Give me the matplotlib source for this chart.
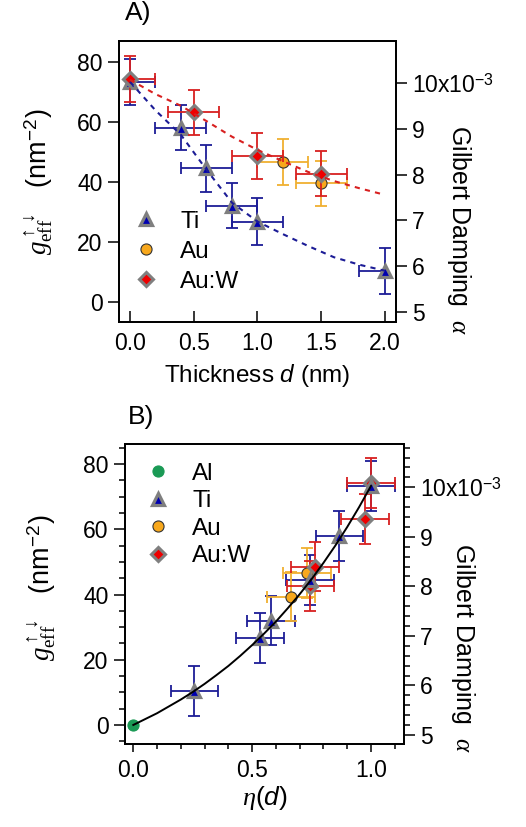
import matplotlib
matplotlib.use('Agg')
import matplotlib.pyplot as plt
from matplotlib.lines import Line2D
from matplotlib.ticker import MultipleLocator

plt.rcParams['font.family'] = ['Liberation Sans', 'DejaVu Sans']
plt.rcParams['mathtext.fontset'] = 'custom'
plt.rcParams['mathtext.rm'] = 'Liberation Serif'
plt.rcParams['mathtext.it'] = 'Liberation Serif:italic'
plt.rcParams['mathtext.sf'] = 'Liberation Sans:italic'
plt.rcParams['mathtext.tt'] = 'Liberation Sans'

# ---- data ----
# panel A : g_eff vs thickness d (nm)
ti_d = [0.0, 0.4, 0.6, 0.8, 1.0, 2.0]
ti_g = [73.3, 58.0, 44.4, 32.0, 26.7, 10.3]
ti_gerr = [7.7, 7.6, 7.7, 7.6, 7.7, 7.7]
ti_derr_lo = [0.0, 0.2, 0.2, 0.2, 0.2, 0.2]
ti_derr_hi = [0.2, 0.2, 0.2, 0.2, 0.2, 0.0]

au_d = [1.2, 1.5]
au_g = [46.6, 39.4]
au_gerr = [7.6, 7.6]
au_derr = [0.2, 0.2]

auw_d = [0.0, 0.5, 1.0, 1.5]
auw_g = [74.2, 63.1, 48.6, 42.7]
auw_gerr = [7.7, 7.6, 7.6, 7.6]
auw_derr_lo = [0.0, 0.2, 0.2, 0.2]
auw_derr_hi = [0.2, 0.2, 0.2, 0.2]

# dashed fit curves in panel A
fit_d = [0.0, 0.2, 0.4, 0.6, 0.8, 1.0, 1.2, 1.4, 1.6, 1.8, 2.0]
fit_ti = [73.3, 63.8, 55.6, 44.0, 33.0, 26.7, 22.5, 18.5, 14.8, 12.3, 10.3]
fit_auw = [74.0, 69.2, 65.3, 60.2, 55.0, 50.6, 46.8, 43.2, 40.2, 37.8, 35.6]

# panel B : g_eff vs eta(d)
al_eta = [0.0]
al_g = [0.0]
ti_eta = [1.0, 0.867, 0.743, 0.579, 0.533, 0.257]
au_eta = [0.732, 0.663]
auw_eta = [1.0, 0.975, 0.764, 0.745]
eta_err = 0.1

# solid curve in panel B
fit_eta = [0.0, 0.05, 0.1, 0.15, 0.2, 0.25, 0.3, 0.35, 0.4, 0.45, 0.5,
           0.55, 0.6, 0.65, 0.7, 0.75, 0.8, 0.85, 0.9, 0.95, 1.0]
fit_g = [0.0, 1.8, 3.6, 5.7, 7.8, 10.1, 12.6, 15.3, 18.1, 21.2, 24.5,
         28.0, 31.7, 35.8, 40.1, 44.7, 49.7, 55.0, 60.7, 66.8, 73.3]

damp_ticks = [5, 6, 7, 8, 9, 10]
damp_labels = ['5', '6', '7', '8', '9', r'10x10$^{\mathtt{-3}}$']

blue = '#1c1c96'
red = '#d82020'
gold = '#f0b030'
orange = '#f8a81c'
green = '#1a9a55'
gray = '#7f7f7f'

ti_mk = dict(marker='^', ms=8.5, mfc='#0000b0', mec=gray, mew=2.3, ls='none')
au_mk = dict(marker='o', ms=8, mfc=orange, mec='#333333', mew=0.8, ls='none')
auw_mk = dict(marker='D', ms=7.5, mfc='#ee0000', mec=gray, mew=2.2, ls='none')
al_mk = dict(marker='o', ms=8, mfc=green, mec=green, mew=0.8, ls='none')
eb = dict(fmt='none', capsize=4, elinewidth=1.3, capthick=1.3)

fs = 16.5
lab = 17.5
glab = r'$g_{\mathrm{eff}}^{\uparrow\downarrow}$   (nm$^{\mathtt{-2}}$)'
fig = plt.figure(figsize=(5.26, 8.27), dpi=100)

# ================= panel A =================
axA = fig.add_axes([0.2262, 0.6106, 0.5266, 0.3398])
axA.errorbar(ti_d, ti_g, yerr=ti_gerr, xerr=[ti_derr_lo, ti_derr_hi], ecolor=blue, **eb)
axA.plot(ti_d, ti_g, **ti_mk)
axA.errorbar(au_d, au_g, yerr=au_gerr, xerr=au_derr, ecolor=gold, **eb)
axA.plot(au_d, au_g, **au_mk)
axA.errorbar(auw_d, auw_g, yerr=auw_gerr, xerr=[auw_derr_lo, auw_derr_hi], ecolor=red, **eb)
axA.plot(auw_d, auw_g, **auw_mk)
axA.plot(fit_d, fit_ti, color=blue, ls=(0, (2.5, 2.5)), lw=1.5, zorder=5)
axA.plot(fit_d, fit_auw, color=red, ls=(0, (2.5, 2.5)), lw=1.5, zorder=5)

axA.set_xlim(-0.086, 2.086)
axA.set_ylim(-6.8, 86.9)
axA.set_xticks([0.0, 0.5, 1.0, 1.5, 2.0])
axA.set_xticklabels(['0.0', '0.5', '1.0', '1.5', '2.0'])
axA.set_yticks([0, 20, 40, 60, 80])
axA.tick_params(axis='x', direction='in', length=7.7, width=1.1, pad=7, labelsize=fs)
axA.tick_params(axis='y', direction='out', length=7.7, width=1.1, pad=4, labelsize=fs)
axA.set_xlabel(r'Thickness $\mathsf{d}$ (nm)', fontsize=lab, labelpad=5)
axA.set_ylabel(glab, fontsize=19.5)
axA.yaxis.set_label_coords(-0.231, 0.5)

axA2 = axA.twinx()
axA2.set_ylim(4.775, 10.926)
axA2.set_yticks(damp_ticks)
axA2.set_yticklabels(damp_labels)
axA2.tick_params(axis='y', direction='out', length=7.7, width=1.1, pad=4, labelsize=fs)
axA2.set_ylabel(r'Gilbert Damping  $\alpha$', fontsize=18, rotation=270)
axA2.yaxis.set_label_coords(1.278, 0.327)
for ax in (axA, axA2):
    for s in ax.spines.values():
        s.set_linewidth(1.3)

hA = [Line2D([], [], **ti_mk), Line2D([], [], **au_mk), Line2D([], [], **auw_mk)]
axA.legend(hA, ['Ti', 'Au', 'Au:W'], loc='lower left', bbox_to_anchor=(0.02, 0.07),
           frameon=False, fontsize=17.5, handlelength=1.0, handletextpad=0.9,
           labelspacing=0.33, borderaxespad=0)

fig.text(0.2376, 0.984, 'A)', fontsize=19, va='center', ha='left')

# ================= panel B =================
axB = fig.add_axes([0.2376, 0.1004, 0.5304, 0.3624])
axB.errorbar(ti_eta, ti_g, yerr=ti_gerr, xerr=eta_err, ecolor=blue, **eb)
axB.errorbar(au_eta, au_g, yerr=au_gerr, xerr=eta_err, ecolor=gold, **eb)
axB.errorbar(auw_eta, auw_g, yerr=auw_gerr, xerr=eta_err, ecolor=red, **eb)
axB.plot(au_eta, au_g, **au_mk)
axB.plot(auw_eta, auw_g, **auw_mk)
axB.plot(ti_eta, ti_g, **ti_mk)
axB.plot(al_eta, al_g, **al_mk)
axB.plot(fit_eta, fit_g, color='black', lw=1.4, zorder=6)

axB.set_xlim(-0.035, 1.139)
axB.set_ylim(-5.83, 86.1)
axB.set_xticks([0.0, 0.5, 1.0])
axB.set_xticklabels(['0.0', '0.5', '1.0'])
axB.xaxis.set_minor_locator(MultipleLocator(0.1))
axB.set_yticks([0, 20, 40, 60, 80])
axB.yaxis.set_minor_locator(MultipleLocator(5))
axB.tick_params(axis='x', which='major', direction='out', length=6, width=1.1, pad=5, labelsize=fs)
axB.tick_params(axis='x', which='minor', direction='out', length=3.5, width=1.1)
axB.tick_params(axis='y', which='major', direction='out', length=7.7, width=1.1, pad=4, labelsize=fs)
axB.tick_params(axis='y', which='minor', direction='out', length=4, width=1.1)
axB.set_xlabel(r'$\eta$($\mathsf{d}$)', fontsize=19, labelpad=1)
axB.set_ylabel(glab, fontsize=19.5)
axB.yaxis.set_label_coords(-0.24, 0.52)

axB2 = axB.twinx()
axB2.set_ylim(4.818, 10.868)
axB2.set_yticks(damp_ticks)
axB2.set_yticklabels(damp_labels)
axB2.yaxis.set_minor_locator(MultipleLocator(0.2))
axB2.tick_params(axis='y', which='major', direction='out', length=7.7, width=1.1, pad=4, labelsize=fs)
axB2.tick_params(axis='y', which='minor', direction='out', length=4, width=1.1)
axB2.set_ylabel(r'Gilbert Damping  $\alpha$', fontsize=18, rotation=270)
axB2.yaxis.set_label_coords(1.262, 0.32)
for ax in (axB, axB2):
    for s in ax.spines.values():
        s.set_linewidth(1.3)

hB = [Line2D([], [], **al_mk), Line2D([], [], **ti_mk), Line2D([], [], **au_mk), Line2D([], [], **auw_mk)]
axB.legend(hB, ['Al', 'Ti', 'Au', 'Au:W'], loc='upper left', bbox_to_anchor=(0.04, 0.97),
           frameon=False, fontsize=17.5, handlelength=1.0, handletextpad=0.9,
           labelspacing=0.22, borderaxespad=0)

fig.text(0.243, 0.4958, 'B)', fontsize=19, va='center', ha='left')

fig.savefig('out.png', dpi=100)
